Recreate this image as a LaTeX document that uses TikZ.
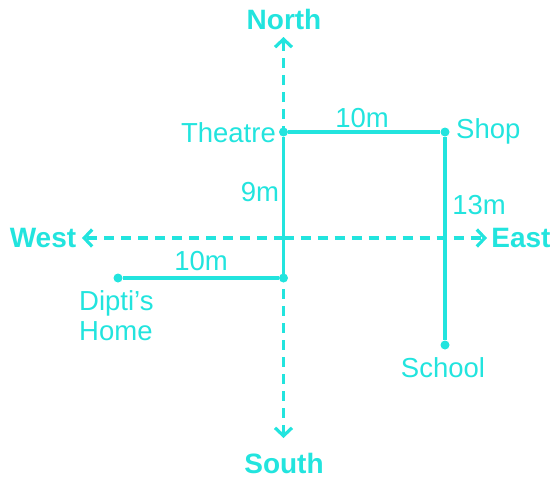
\documentclass[tikz,border=0pt]{standalone}
\usepackage{fontspec}
\setmainfont{Liberation Sans}
\usetikzlibrary{arrows.meta}
\definecolor{cy}{RGB}{34,228,222}
\tikzset{
  axis/.style={draw=cy, line width=3.2pt, dash pattern=on 10pt off 7pt, -{Straight Barb[length=8pt,width=17pt,line width=3.2pt]}},
  road/.style={draw=cy, line width=3.6pt},
  lbl/.style={text=cy, font=\fontsize{27.5}{30}\selectfont, inner sep=0pt},
  dir/.style={text=cy, font=\fontsize{28}{30}\selectfont\bfseries, inner sep=0pt},
  pt/.style={circle, fill=cy, inner sep=0pt, minimum size=9pt}
}
\begin{document}
\begin{tikzpicture}[x=1pt,y=-1pt]
\useasboundingbox (0,0) rectangle (555,480);
% coordinates
\coordinate (O) at (283.5,238);
\coordinate (N) at (283.5,37);
\coordinate (S) at (283.5,438);
\coordinate (W) at (82,238);
\coordinate (E) at (487,238);
% direction labels
\node[dir] (north) at (284,19) {North};
\node[dir] (south) at (284,463) {South};
\node[dir] (west) at (43,238) {West};
\node[dir] (east) at (521,238) {East};
% axes
\draw[axis] (O) -- (N);
\draw[axis] (O) -- (S);
\draw[axis] (O) -- (W);
\draw[axis] (O) -- (E);
% places
\node[pt] (theatre) at (283.5,132) {};
\node[pt] (shop) at (445,132) {};
\node[pt] (school) at (445,345) {};
\node[pt] (home) at (118,278) {};
\node[pt] (corner) at (283.5,278) {};
% roads
\draw[road] (home) -- (corner);
\draw[road] (corner) -- (theatre);
\draw[road] (theatre) -- (shop);
\draw[road] (shop) -- (school);
% labels
\node[lbl, anchor=east] (tl) at (276,133) {Theatre};
\node[lbl, anchor=west] (sl) at (456,131) {Shop};
\node[lbl] (scl) at (443,368) {School};
\node[lbl, align=left, anchor=north west] (hl) at (79,290) {Dipti’s\\Home};
\node[lbl] (d1) at (362,118) {10m};
\node[lbl] (d2) at (260,192) {9m};
\node[lbl] (d3) at (479,205) {13m};
\node[lbl] (d4) at (201,261) {10m};
\end{tikzpicture}
\end{document}
